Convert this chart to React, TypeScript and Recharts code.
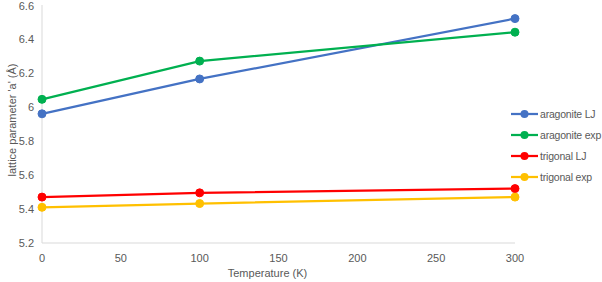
import React from 'react';
import { LineChart, Line, XAxis, YAxis } from 'recharts';

const temperatures = [0, 100, 300];
const aragoniteLJ = [5.96, 6.165, 6.52];
const aragoniteExp = [6.045, 6.27, 6.44];
const trigonalLJ = [5.47, 5.495, 5.52];
const trigonalExp = [5.41, 5.432, 5.47];
const xTicks = [0, 50, 100, 150, 200, 250, 300];
const yTicks = [5.2, 5.4, 5.6, 5.8, 6, 6.2, 6.4, 6.6];

const seriesNames = ['aragonite LJ', 'aragonite exp', 'trigonal LJ', 'trigonal exp'];
const seriesColors = ['#4472C4', '#00B050', '#FF0000', '#FFC000'];
const seriesKeys = ['aLJ', 'aExp', 'tLJ', 'tExp'];

const data = temperatures.map((t, i) => ({
  t,
  aLJ: aragoniteLJ[i],
  aExp: aragoniteExp[i],
  tLJ: trigonalLJ[i],
  tExp: trigonalExp[i],
}));

const FONT = '"Liberation Sans", Arial, sans-serif';
const TEXT = '#595959';

const LegendBox = () => (
  <div style={{ position: 'absolute', left: 511, top: 103, fontFamily: FONT, fontSize: 10.5, letterSpacing: -0.2, color: TEXT, whiteSpace: 'nowrap' }}>
    {seriesNames.map((n, i) => (
      <div key={n} style={{ display: 'flex', alignItems: 'center', height: 21 }}>
        <svg width={27} height={10} style={{ marginRight: 2 }}>
          <line x1={0} y1={5} x2={27} y2={5} stroke={seriesColors[i]} strokeWidth={2.25} />
          <circle cx={13.5} cy={5} r={4} fill={seriesColors[i]} />
        </svg>
        <span>{n}</span>
      </div>
    ))}
  </div>
);

export default function App() {
  return (
    <div style={{ position: 'absolute', left: 0, top: 0, width: 602, height: 282, background: '#fff', overflow: 'hidden' }}>
      <LineChart width={602} height={282} data={data} margin={{ top: 5, right: 87, bottom: 0, left: 0 }}>
        <XAxis
          dataKey="t"
          type="number"
          domain={[0, 300]}
          ticks={xTicks}
          axisLine={{ stroke: '#D9D9D9', strokeWidth: 1 }}
          tickLine={false}
          tickMargin={5}
          height={39}
          tick={{ fill: TEXT, fontSize: 11, fontFamily: FONT }}
          label={{ value: 'Temperature (K)', position: 'insideBottom', offset: 5, dx: -11, fill: TEXT, fontSize: 11, fontFamily: FONT }}
        />
        <YAxis
          type="number"
          domain={[5.2, 6.6]}
          ticks={yTicks}
          width={42}
          axisLine={{ stroke: '#D9D9D9', strokeWidth: 1 }}
          tickLine={false}
          tick={{ fill: TEXT, fontSize: 11, fontFamily: FONT }}
          label={{ value: "lattice parameter 'a' (Å)", angle: -90, position: 'center', dx: -9, dy: -4, fill: TEXT, fontSize: 11, fontFamily: FONT }}
        />
        {seriesKeys.map((k, i) => (
          <Line
            key={k}
            dataKey={k}
            name={seriesNames[i]}
            stroke={seriesColors[i]}
            strokeWidth={2.25}
            dot={{ r: 4, fill: seriesColors[i], stroke: seriesColors[i], strokeWidth: 1 }}
            isAnimationActive={false}
          />
        ))}
      </LineChart>
      <LegendBox />
    </div>
  );
}
